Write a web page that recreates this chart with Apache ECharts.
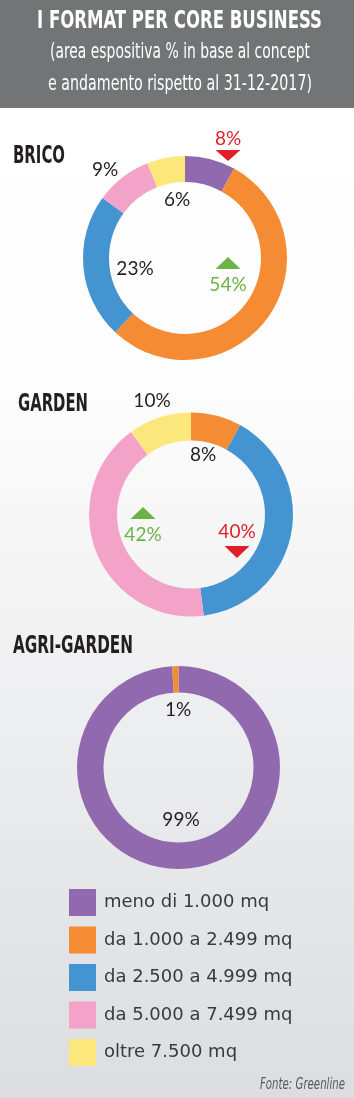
<!DOCTYPE html>
<html>
<head>
<meta charset="utf-8">
<script src="https://cdn.jsdelivr.net/npm/echarts@6/dist/echarts.min.js"></script>
<style>
html,body{margin:0;padding:0;background:#fff;}
#c{width:354px;height:1098px;}
</style>
</head>
<body>
<div id="c"></div>
<script>
// ---- data ----
const categories = ['meno di 1.000 mq', 'da 1.000 a 2.499 mq', 'da 2.500 a 4.999 mq', 'da 5.000 a 7.499 mq', 'oltre 7.500 mq'];
const colors = ['#9169ae', '#f58b32', '#4394d1', '#f3a2c8', '#fce77c'];
const formats = ['BRICO', 'GARDEN', 'AGRI-GARDEN'];
const brico = [8, 54, 23, 9, 6];
const garden = [0, 8, 40, 42, 10];
const agriGarden = [99, 1, 0, 0, 0];
// trend vs 31-12-2017: 1 = up, -1 = down, 0 = none
const bricoTrend = [-1, 1, 0, 0, 0];
const gardenTrend = [0, 0, -1, 1, 0];
const agriTrend = [0, 0, 0, 0, 0];
const titleText = 'I FORMAT PER CORE BUSINESS';
const subtitleLines = ['(area espositiva % in base al concept', 'e andamento rispetto al 31-12-2017)'];
const sourceText = 'Fonte: Greenline';

// ---- layout / style ----
const W = 354, H = 1098;
const INK = '#231f20', UP = '#6ab344', DOWN = '#e01f2a';
const condBold = '"DejaVu Sans Condensed", "Liberation Sans Narrow", sans-serif';
const bodyFont = 'Lato, "Open Sans", sans-serif';
const legendFont = '"DejaVu Sans", Lato, sans-serif';

const pies = [
  { values: brico, trend: bricoTrend, center: [185, 258], radius: [76, 102],
    heading: { x: 13, y: 156, w: 52 },
    // label centres per category (null = none)
    labels: [[228, 139], [228, 285], [135, 269], [105, 170], [177, 200]] },
  { values: garden, trend: gardenTrend, center: [191, 514.5], radius: [74, 102],
    heading: { x: 18, y: 404, w: 70 },
    labels: [null, [203, 455], [237, 532], [143, 535], [152, 401]] },
  { values: agriGarden, trend: agriTrend, center: [178.5, 767.5], radius: [75, 101.5],
    heading: { x: 13, y: 646, w: 120 },
    labels: [[181, 820], [178, 710], null, null, null] }
];

const measureCtx = document.createElement('canvas').getContext('2d');
function fitScale(text, font, target) {
  measureCtx.font = font;
  const w = measureCtx.measureText(text).width;
  return w > 0 ? target / w : 1;
}
function fittedText(text, x, y, target, size, weight, family, color, style) {
  const font = (style || 'normal') + ' ' + weight + ' ' + size + 'px ' + family;
  return {
    type: 'text', x: x, y: y, z: 100,
    scaleX: fitScale(text, font, target), originX: 0, originY: 0,
    style: { text: text, x: 0, y: 0, fill: color, fontSize: size, fontWeight: weight,
      fontFamily: family, fontStyle: style || 'normal', align: 'left', verticalAlign: 'middle' }
  };
}

const graphics = [];
// background
graphics.push({ type: 'rect', z: -10, shape: { x: 0, y: 108, width: W, height: H - 108 },
  style: { fill: { type: 'linear', x: 0, y: 0, x2: 0, y2: 1, colorStops: [
    { offset: 0, color: '#ffffff' }, { offset: 0.3, color: '#fcfcfc' }, { offset: 1, color: '#dcdde0' } ] } } });
graphics.push({ type: 'rect', z: -10, shape: { x: 0, y: 0, width: W, height: 108 }, style: { fill: '#737476' } });
// header
graphics.push(fittedText(titleText, 37, 21, 285, 25, 'bold', condBold, '#ffffff'));
graphics.push(fittedText(subtitleLines[0], 50, 53, 260, 21, 'normal', condBold, '#ffffff'));
graphics.push(fittedText(subtitleLines[1], 48, 85, 264, 21, 'normal', condBold, '#ffffff'));
// source
graphics.push(fittedText(sourceText, 260, 1085, 85, 15, 'normal', condBold, '#58595b', 'italic'));

const series = [];
pies.forEach(function (p, pi) {
  graphics.push(fittedText(formats[pi], p.heading.x, p.heading.y, p.heading.w, 25, 'bold', condBold, INK));
  const data = [];
  p.values.forEach(function (v, i) {
    if (v > 0) data.push({ name: categories[i], value: v, itemStyle: { color: colors[i] } });
    const pos = p.labels[i];
    if (v > 0 && pos) {
      const t = p.trend[i];
      const col = t > 0 ? UP : (t < 0 ? DOWN : INK);
      graphics.push({ type: 'text', z: 100, x: pos[0], y: pos[1],
        style: { text: v + '%', fill: col, fontSize: 19, fontFamily: bodyFont,
          align: 'center', verticalAlign: 'middle' } });
      if (t !== 0) {
        const cx = pos[0], hw = 12.5;
        const pts = t > 0
          ? [[cx - hw, pos[1] - 16], [cx + hw, pos[1] - 16], [cx, pos[1] - 28]]
          : [[cx - hw, pos[1] + (pi === 0 ? 11 : 14)], [cx + hw, pos[1] + (pi === 0 ? 11 : 14)], [cx, pos[1] + (pi === 0 ? 22 : 26)]];
        graphics.push({ type: 'polygon', z: 100, shape: { points: pts }, style: { fill: col } });
      }
    }
  });
  series.push({
    type: 'pie', name: formats[pi], center: p.center, radius: p.radius,
    startAngle: 90, clockwise: true, avoidLabelOverlap: false, silent: true,
    label: { show: false }, labelLine: { show: false }, emphasis: { disabled: true },
    itemStyle: { borderWidth: 0 },
    data: data
  });
});

const chart = echarts.init(document.getElementById('c'), null, { renderer: 'canvas' });
chart.setOption({
  animation: false,
  color: colors,
  legend: {
    orient: 'vertical', left: 69, top: 889, padding: 0,
    itemWidth: 27, itemHeight: 27, itemGap: 10.5, icon: 'rect',
    selectedMode: false,
    data: categories,
    textStyle: { fontSize: 18, color: '#3a3a3c', fontFamily: legendFont, padding: [0, 0, 0, 3] }
  },
  graphic: graphics,
  series: series
});
</script>
</body>
</html>
